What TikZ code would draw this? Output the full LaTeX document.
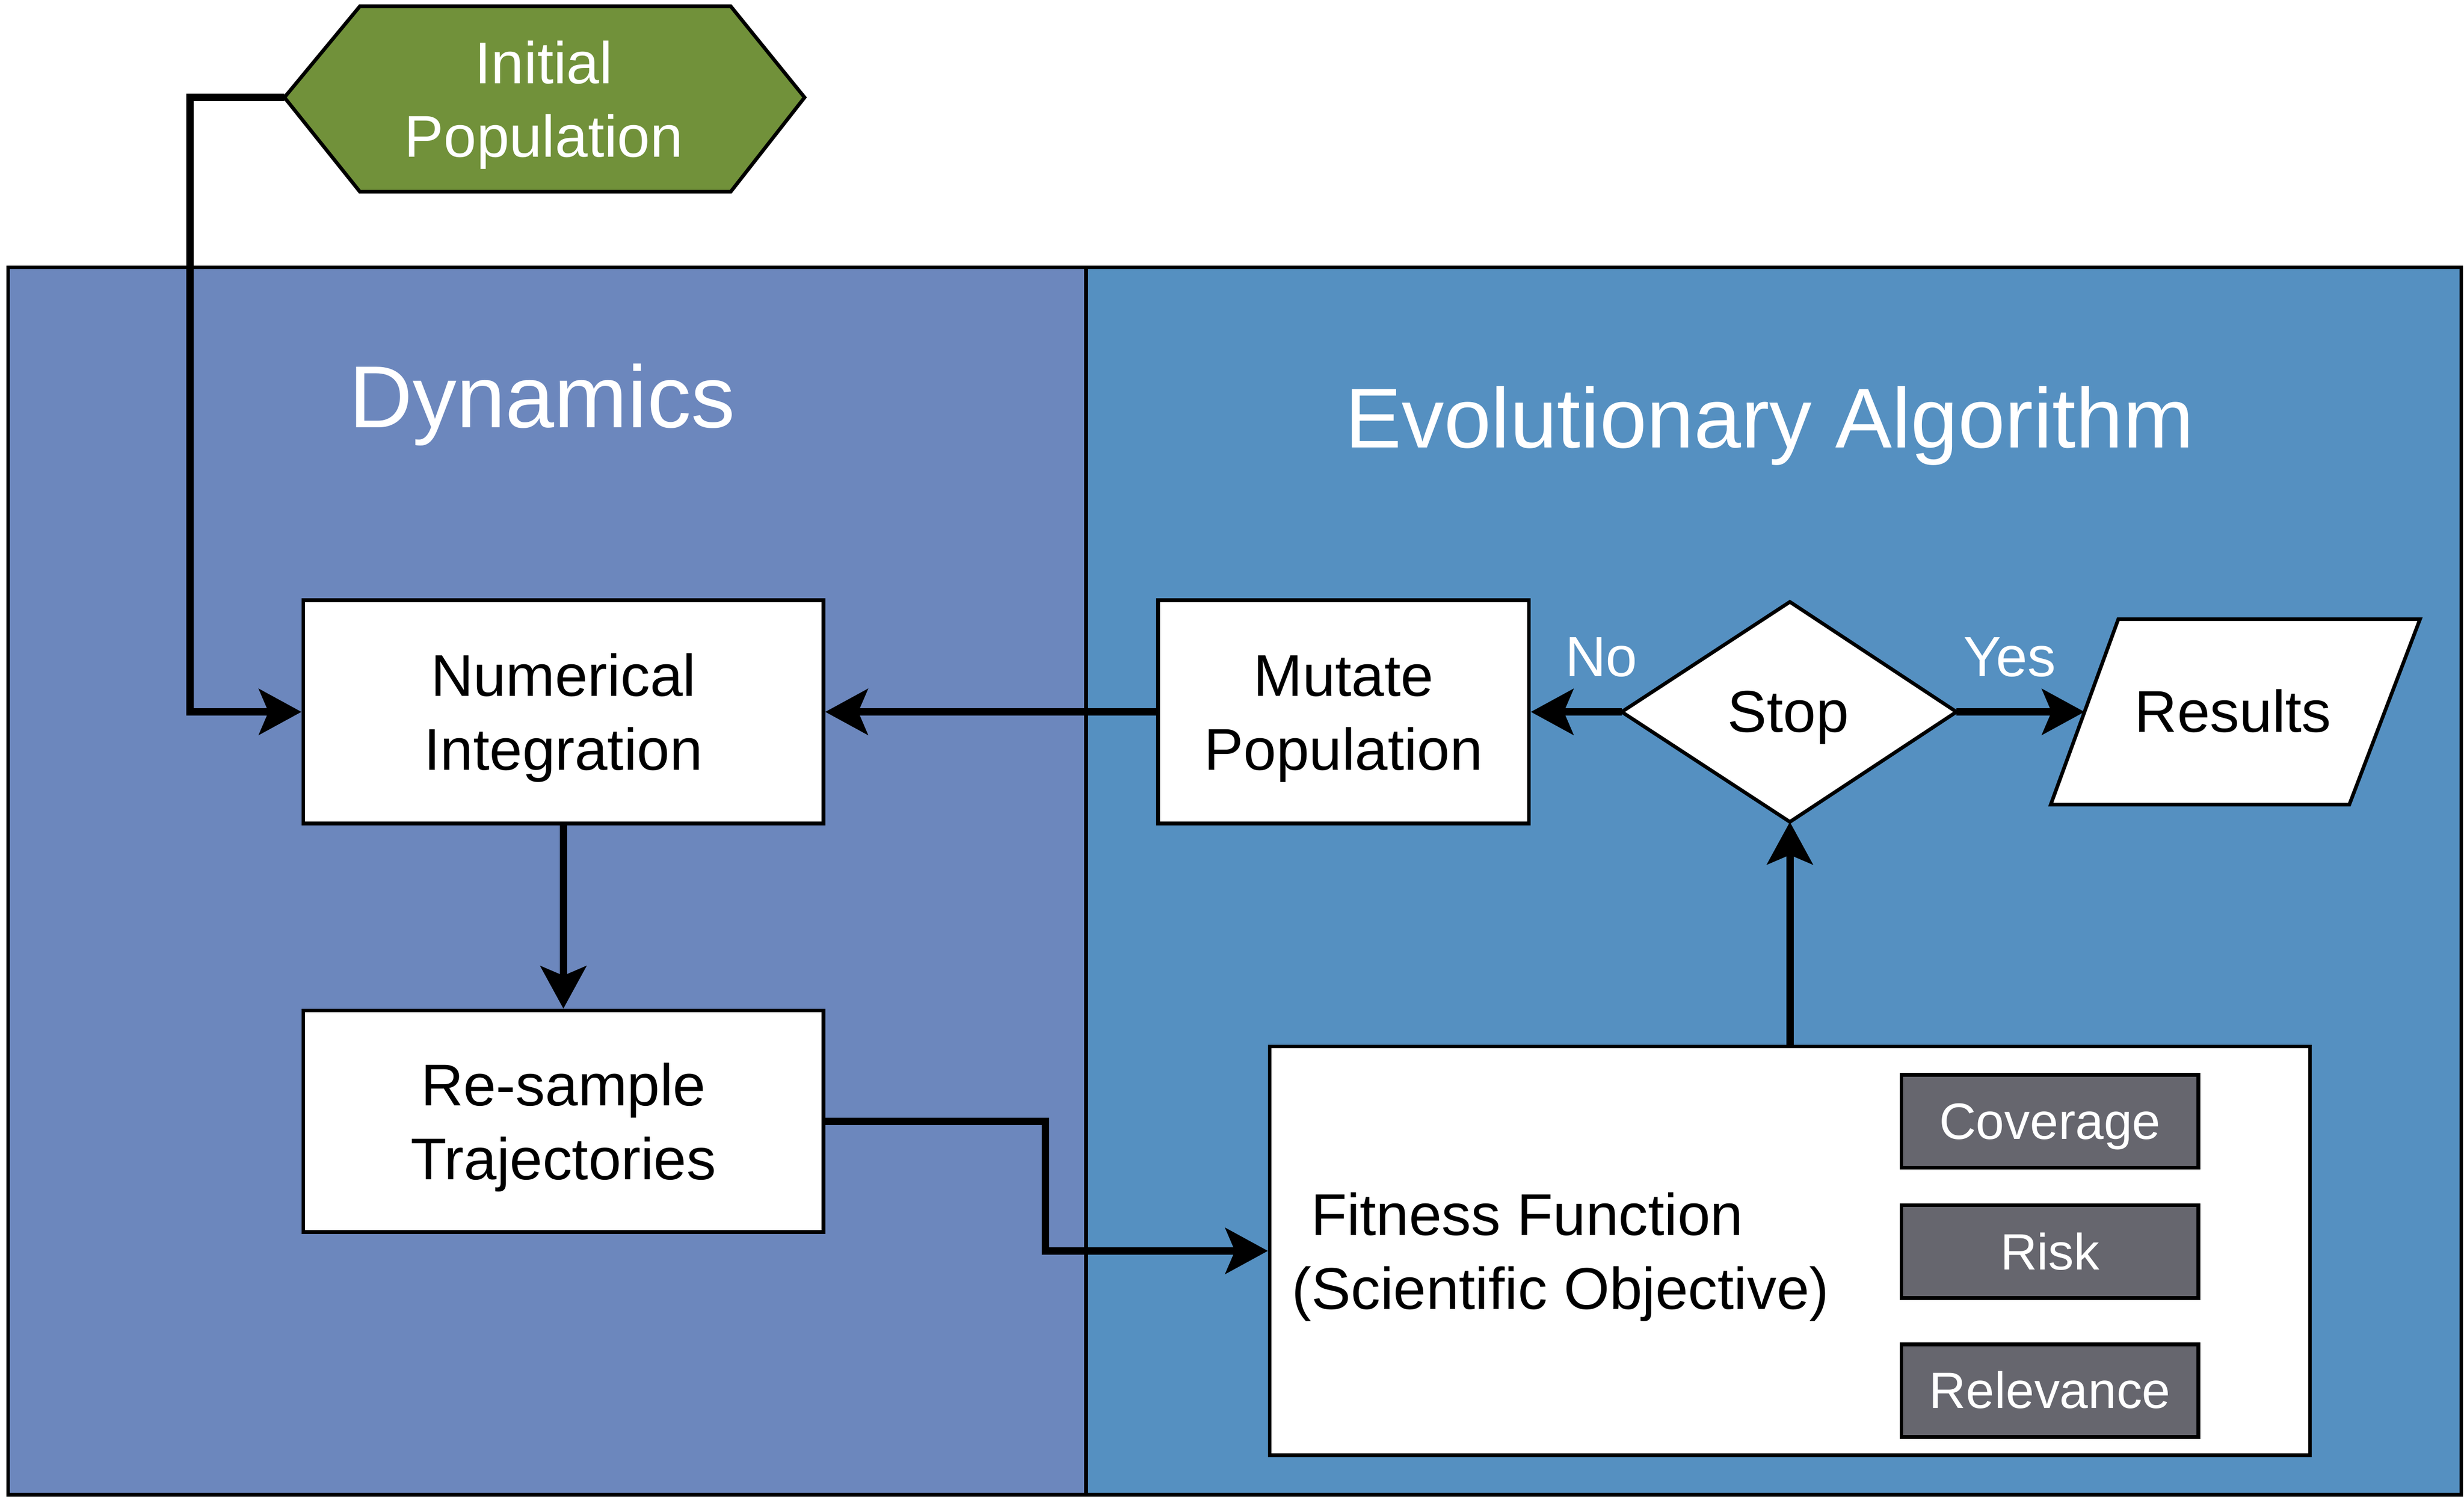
\documentclass[tikz,border=0pt]{standalone}
\usepackage{fontspec}
\setmainfont{Liberation Sans}
\usetikzlibrary{arrows.meta}
\definecolor{dynblue}{HTML}{6C87BD}
\definecolor{evoblue}{HTML}{5590C1}
\definecolor{hexgreen}{HTML}{71913A}
\definecolor{critgray}{HTML}{66666E}
\begin{document}
\begin{tikzpicture}[x=1pt,y=-1pt,
  panel/.style={draw=black, line width=2.3pt, anchor=north west, inner sep=0pt},
  box/.style={draw=black, fill=white, line width=2.3pt, inner sep=0pt, align=center,
    font=\fontsize{37.5}{47}\selectfont, text height=82pt, text depth=8pt},
  crit/.style={draw=black, fill=critgray, line width=2.3pt, inner sep=0pt,
    minimum width=189pt, minimum height=59pt},
  conn/.style={line width=4.7pt, -{Stealth[length=27pt,width=29pt,inset=6pt]}},
  title/.style={text=white, font=\fontsize{54}{60}\selectfont, inner sep=0pt, anchor=base},
  lbl/.style={text=white, font=\fontsize{36}{44}\selectfont, inner sep=0pt, anchor=base},
  crittext/.style={text=white, font=\fontsize{32.5}{40}\selectfont, inner sep=0pt, anchor=base},
  plain/.style={font=\fontsize{37.5}{47}\selectfont, inner sep=0pt, align=center, anchor=base}]
\useasboundingbox (0,0) rectangle (1568,960);
% panels
\node[panel, fill=dynblue, minimum width=686pt, minimum height=781pt] (dyn) at (4,169) {};
\node[panel, fill=evoblue, minimum width=875pt, minimum height=781pt] (evo) at (690,169) {};
\node[title, font=\fontsize{56}{60}\selectfont] (dyntitle) at (345,272) {Dynamics};
\node[title] (evotitle) at (1126,285) {Evolutionary Algorithm};
% initial population hexagon
\draw[fill=hexgreen, line width=2.3pt, line join=miter] (181,62) coordinate (initL) -- (229,4) -- (465,4) -- (512,62) -- (465,122) -- (229,122) -- cycle;
\node[plain, text=white] (init) at (346,100) {Initial\\Population};
% boxes
\node[box, minimum width=331pt, minimum height=142pt] (num) at (358.5,453) {Numerical\\Integration};
\node[box, minimum width=331pt, minimum height=141pt] (res) at (358.5,713.5) {Re-sample\\Trajectories};
\node[box, minimum width=236pt, minimum height=142pt] (mut) at (855,453) {Mutate\\Population};
\node[draw=black, fill=white, line width=2.3pt, inner sep=0pt, minimum width=662pt, minimum height=260pt] (fit) at (1139,796) {};
\node[plain, anchor=base west] (fit1) at (834,786) {Fitness Function};
\node[plain, anchor=base west] (fit2) at (822,833) {(Scientific Objective)};
\node[crit] (cov) at (1304.5,713.5) {};
\node[crit] (risk) at (1304.5,796.5) {};
\node[crit] (rel) at (1304.5,885) {};
\node[crittext] at (1304.5,725) {Coverage};
\node[crittext] at (1304.5,808) {Risk};
\node[crittext] at (1304.5,896) {Relevance};
% stop diamond
\draw[fill=white, line width=2.3pt] (1032,453) coordinate (stopL) -- (1139,383) coordinate (stopT) -- (1245,453) coordinate (stopR) -- (1139,523) coordinate (stopB) -- cycle;
\node[plain] (stop) at (1138,466) {Stop};
% results parallelogram
\draw[fill=white, line width=2.3pt] (1348,394) -- (1540,394) -- (1495,512) -- (1305,512) -- cycle;
\coordinate (resultsL) at (1326.5,453);
\node[plain] (results) at (1421,466) {Results};
% connectors
\draw[conn] (initL) -- ++(-60,0) |- (num.west);
\draw[conn] (mut.west) -- (num.east);
\draw[conn] (num.south) -- (res.north);
\draw[conn] (res.east) -- ++(140,0) |- (fit.west);
\draw[conn] (fit.north) -- (stopB);
\draw[conn] (stopL) -- (mut.east);
\draw[conn] (stopR) -- (resultsL);
\node[lbl] (no) at (1019,430.5) {No};
\node[lbl] (yes) at (1279,430.5) {Yes};
\end{tikzpicture}
\end{document}
